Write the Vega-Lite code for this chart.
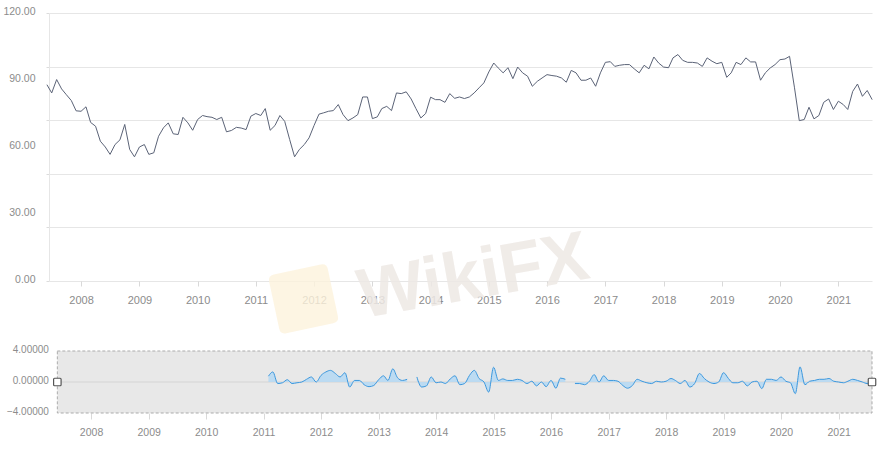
{
  "$schema": "https://vega.github.io/schema/vega-lite/v6.json",
  "description": "Monthly index with data-zoom overview panel",
  "padding": {"left": 2, "top": 6, "right": 0, "bottom": 0},
  "datasets": {
    "index": [
      {"date": "2007-06-01", "value": 87.9}, {"date": "2007-07-01", "value": 84.2}, {"date": "2007-08-01", "value": 90.2},
      {"date": "2007-09-01", "value": 86.0}, {"date": "2007-10-01", "value": 83.4}, {"date": "2007-11-01", "value": 80.8},
      {"date": "2007-12-01", "value": 76.2}, {"date": "2008-01-01", "value": 76.0}, {"date": "2008-02-01", "value": 78.0},
      {"date": "2008-03-01", "value": 71.0}, {"date": "2008-04-01", "value": 69.3}, {"date": "2008-05-01", "value": 62.6},
      {"date": "2008-06-01", "value": 60.0}, {"date": "2008-07-01", "value": 56.7}, {"date": "2008-08-01", "value": 61.1},
      {"date": "2008-09-01", "value": 63.2}, {"date": "2008-10-01", "value": 70.1}, {"date": "2008-11-01", "value": 58.9},
      {"date": "2008-12-01", "value": 55.6}, {"date": "2009-01-01", "value": 60.0}, {"date": "2009-02-01", "value": 61.1},
      {"date": "2009-03-01", "value": 56.7}, {"date": "2009-04-01", "value": 57.4}, {"date": "2009-05-01", "value": 64.8},
      {"date": "2009-06-01", "value": 68.6}, {"date": "2009-07-01", "value": 70.8}, {"date": "2009-08-01", "value": 65.9},
      {"date": "2009-09-01", "value": 65.6}, {"date": "2009-10-01", "value": 73.3}, {"date": "2009-11-01", "value": 70.8},
      {"date": "2009-12-01", "value": 67.5}, {"date": "2010-01-01", "value": 72.3}, {"date": "2010-02-01", "value": 74.1},
      {"date": "2010-03-01", "value": 73.6}, {"date": "2010-04-01", "value": 73.3}, {"date": "2010-05-01", "value": 72.3},
      {"date": "2010-06-01", "value": 73.3}, {"date": "2010-07-01", "value": 66.8}, {"date": "2010-08-01", "value": 67.4},
      {"date": "2010-09-01", "value": 68.8}, {"date": "2010-10-01", "value": 68.5}, {"date": "2010-11-01", "value": 67.8},
      {"date": "2010-12-01", "value": 73.8}, {"date": "2011-01-01", "value": 75.0}, {"date": "2011-02-01", "value": 74.1},
      {"date": "2011-03-01", "value": 77.2}, {"date": "2011-04-01", "value": 67.5}, {"date": "2011-05-01", "value": 69.6},
      {"date": "2011-06-01", "value": 74.1}, {"date": "2011-07-01", "value": 71.5}, {"date": "2011-08-01", "value": 63.4},
      {"date": "2011-09-01", "value": 55.6}, {"date": "2011-10-01", "value": 58.9}, {"date": "2011-11-01", "value": 61.1},
      {"date": "2011-12-01", "value": 64.1}, {"date": "2012-01-01", "value": 69.6}, {"date": "2012-02-01", "value": 74.7},
      {"date": "2012-03-01", "value": 75.3}, {"date": "2012-04-01", "value": 76.0}, {"date": "2012-05-01", "value": 76.3},
      {"date": "2012-06-01", "value": 79.0}, {"date": "2012-07-01", "value": 74.5}, {"date": "2012-08-01", "value": 71.8},
      {"date": "2012-09-01", "value": 73.0}, {"date": "2012-10-01", "value": 74.5}, {"date": "2012-11-01", "value": 82.4},
      {"date": "2012-12-01", "value": 82.4}, {"date": "2013-01-01", "value": 72.7}, {"date": "2013-02-01", "value": 73.5},
      {"date": "2013-03-01", "value": 77.2}, {"date": "2013-04-01", "value": 78.2}, {"date": "2013-05-01", "value": 76.3},
      {"date": "2013-06-01", "value": 84.2}, {"date": "2013-07-01", "value": 83.9}, {"date": "2013-08-01", "value": 84.7},
      {"date": "2013-09-01", "value": 81.5}, {"date": "2013-10-01", "value": 77.2}, {"date": "2013-11-01", "value": 73.0},
      {"date": "2013-12-01", "value": 75.0}, {"date": "2014-01-01", "value": 82.3}, {"date": "2014-02-01", "value": 81.2},
      {"date": "2014-03-01", "value": 81.2}, {"date": "2014-04-01", "value": 80.0}, {"date": "2014-05-01", "value": 83.9},
      {"date": "2014-06-01", "value": 81.8}, {"date": "2014-07-01", "value": 82.4}, {"date": "2014-08-01", "value": 81.7},
      {"date": "2014-09-01", "value": 82.4}, {"date": "2014-10-01", "value": 84.2}, {"date": "2014-11-01", "value": 86.5},
      {"date": "2014-12-01", "value": 88.7}, {"date": "2015-01-01", "value": 93.6}, {"date": "2015-02-01", "value": 97.6},
      {"date": "2015-03-01", "value": 95.4}, {"date": "2015-04-01", "value": 93.2}, {"date": "2015-05-01", "value": 95.5},
      {"date": "2015-06-01", "value": 90.6}, {"date": "2015-07-01", "value": 95.8}, {"date": "2015-08-01", "value": 93.2},
      {"date": "2015-09-01", "value": 91.7}, {"date": "2015-10-01", "value": 87.2}, {"date": "2015-11-01", "value": 89.4},
      {"date": "2015-12-01", "value": 90.9}, {"date": "2016-01-01", "value": 92.4}, {"date": "2016-02-01", "value": 92.0},
      {"date": "2016-03-01", "value": 91.7}, {"date": "2016-04-01", "value": 90.9}, {"date": "2016-05-01", "value": 89.0},
      {"date": "2016-06-01", "value": 94.3}, {"date": "2016-07-01", "value": 93.2}, {"date": "2016-08-01", "value": 89.9},
      {"date": "2016-09-01", "value": 89.9}, {"date": "2016-10-01", "value": 90.9}, {"date": "2016-11-01", "value": 87.2},
      {"date": "2016-12-01", "value": 93.2}, {"date": "2017-01-01", "value": 97.9}, {"date": "2017-02-01", "value": 98.2},
      {"date": "2017-03-01", "value": 96.1}, {"date": "2017-04-01", "value": 96.6}, {"date": "2017-05-01", "value": 96.9},
      {"date": "2017-06-01", "value": 96.9}, {"date": "2017-07-01", "value": 95.0}, {"date": "2017-08-01", "value": 93.2},
      {"date": "2017-09-01", "value": 96.6}, {"date": "2017-10-01", "value": 95.0}, {"date": "2017-11-01", "value": 100.3},
      {"date": "2017-12-01", "value": 97.6}, {"date": "2018-01-01", "value": 95.8}, {"date": "2018-02-01", "value": 95.5},
      {"date": "2018-03-01", "value": 99.9}, {"date": "2018-04-01", "value": 101.4}, {"date": "2018-05-01", "value": 98.8},
      {"date": "2018-06-01", "value": 97.9}, {"date": "2018-07-01", "value": 97.9}, {"date": "2018-08-01", "value": 97.6},
      {"date": "2018-09-01", "value": 96.1}, {"date": "2018-10-01", "value": 99.9}, {"date": "2018-11-01", "value": 98.4},
      {"date": "2018-12-01", "value": 97.3}, {"date": "2019-01-01", "value": 97.9}, {"date": "2019-02-01", "value": 91.2},
      {"date": "2019-03-01", "value": 93.2}, {"date": "2019-04-01", "value": 97.9}, {"date": "2019-05-01", "value": 96.9},
      {"date": "2019-06-01", "value": 99.9}, {"date": "2019-07-01", "value": 98.1}, {"date": "2019-08-01", "value": 98.1},
      {"date": "2019-09-01", "value": 89.9}, {"date": "2019-10-01", "value": 93.2}, {"date": "2019-11-01", "value": 95.4},
      {"date": "2019-12-01", "value": 96.9}, {"date": "2020-01-01", "value": 99.1}, {"date": "2020-02-01", "value": 99.4},
      {"date": "2020-03-01", "value": 100.6}, {"date": "2020-04-01", "value": 86.5}, {"date": "2020-05-01", "value": 71.8},
      {"date": "2020-06-01", "value": 72.3}, {"date": "2020-07-01", "value": 77.8}, {"date": "2020-08-01", "value": 72.6},
      {"date": "2020-09-01", "value": 74.1}, {"date": "2020-10-01", "value": 80.0}, {"date": "2020-11-01", "value": 81.5},
      {"date": "2020-12-01", "value": 76.8}, {"date": "2021-01-01", "value": 80.5}, {"date": "2021-02-01", "value": 79.0},
      {"date": "2021-03-01", "value": 76.8}, {"date": "2021-04-01", "value": 84.9}, {"date": "2021-05-01", "value": 88.2},
      {"date": "2021-06-01", "value": 82.7}, {"date": "2021-07-01", "value": 85.3}, {"date": "2021-08-01", "value": 81.2}
    ],
    "change": [
      {"date": "2011-02-01", "value": 0.75}, {"date": "2011-03-01", "value": 1.3}, {"date": "2011-04-01", "value": -0.2},
      {"date": "2011-05-01", "value": -0.1}, {"date": "2011-06-01", "value": 0.3}, {"date": "2011-07-01", "value": -0.2},
      {"date": "2011-08-01", "value": -0.1}, {"date": "2011-09-01", "value": 0.0}, {"date": "2011-10-01", "value": 0.35},
      {"date": "2011-11-01", "value": 0.65}, {"date": "2011-12-01", "value": 0.0}, {"date": "2012-01-01", "value": 0.85},
      {"date": "2012-02-01", "value": 1.3}, {"date": "2012-03-01", "value": 1.5}, {"date": "2012-04-01", "value": 1.1},
      {"date": "2012-05-01", "value": 0.65}, {"date": "2012-06-01", "value": 1.2}, {"date": "2012-07-01", "value": -0.65},
      {"date": "2012-08-01", "value": 0.2}, {"date": "2012-09-01", "value": 0.2}, {"date": "2012-10-01", "value": -0.35},
      {"date": "2012-11-01", "value": -0.6}, {"date": "2012-12-01", "value": -0.45}, {"date": "2013-01-01", "value": 0.3},
      {"date": "2013-02-01", "value": 0.8}, {"date": "2013-03-01", "value": 0.2}, {"date": "2013-04-01", "value": 1.7},
      {"date": "2013-05-01", "value": 0.55}, {"date": "2013-06-01", "value": 0.2}, {"date": "2013-07-01", "value": 0.35},
      {"date": "2013-08-01", "value": null}, {"date": "2013-09-01", "value": 0.65}, {"date": "2013-10-01", "value": -0.65},
      {"date": "2013-11-01", "value": -0.5}, {"date": "2013-12-01", "value": 0.65}, {"date": "2014-01-01", "value": -0.1},
      {"date": "2014-02-01", "value": 0.0}, {"date": "2014-03-01", "value": -0.2}, {"date": "2014-04-01", "value": 0.4},
      {"date": "2014-05-01", "value": 0.8}, {"date": "2014-06-01", "value": -0.35}, {"date": "2014-07-01", "value": -0.2},
      {"date": "2014-08-01", "value": 0.85}, {"date": "2014-09-01", "value": 1.5}, {"date": "2014-10-01", "value": 0.45},
      {"date": "2014-11-01", "value": 0.0}, {"date": "2014-12-01", "value": -1.3}, {"date": "2015-01-01", "value": 1.9},
      {"date": "2015-02-01", "value": 0.2}, {"date": "2015-03-01", "value": 0.4}, {"date": "2015-04-01", "value": 0.2},
      {"date": "2015-05-01", "value": 0.2}, {"date": "2015-06-01", "value": 0.35}, {"date": "2015-07-01", "value": 0.2},
      {"date": "2015-08-01", "value": -0.2}, {"date": "2015-09-01", "value": 0.1}, {"date": "2015-10-01", "value": -0.5},
      {"date": "2015-11-01", "value": 0.0}, {"date": "2015-12-01", "value": -0.6}, {"date": "2016-01-01", "value": 0.2},
      {"date": "2016-02-01", "value": -0.8}, {"date": "2016-03-01", "value": 0.5}, {"date": "2016-04-01", "value": 0.35},
      {"date": "2016-05-01", "value": null}, {"date": "2016-06-01", "value": -0.2}, {"date": "2016-07-01", "value": -0.2},
      {"date": "2016-08-01", "value": -0.35}, {"date": "2016-09-01", "value": 0.1}, {"date": "2016-10-01", "value": 0.95},
      {"date": "2016-11-01", "value": 0.0}, {"date": "2016-12-01", "value": 0.8}, {"date": "2017-01-01", "value": 0.2},
      {"date": "2017-02-01", "value": 0.2}, {"date": "2017-03-01", "value": 0.1}, {"date": "2017-04-01", "value": -0.45},
      {"date": "2017-05-01", "value": -0.8}, {"date": "2017-06-01", "value": -0.45}, {"date": "2017-07-01", "value": 0.35},
      {"date": "2017-08-01", "value": 0.1}, {"date": "2017-09-01", "value": -0.1}, {"date": "2017-10-01", "value": -0.2},
      {"date": "2017-11-01", "value": 0.1}, {"date": "2017-12-01", "value": 0.0}, {"date": "2018-01-01", "value": 0.1},
      {"date": "2018-02-01", "value": 0.45}, {"date": "2018-03-01", "value": 0.2}, {"date": "2018-04-01", "value": -0.2},
      {"date": "2018-05-01", "value": 0.2}, {"date": "2018-06-01", "value": -0.65}, {"date": "2018-07-01", "value": -0.2},
      {"date": "2018-08-01", "value": 1.1}, {"date": "2018-09-01", "value": 0.45}, {"date": "2018-10-01", "value": 0.0},
      {"date": "2018-11-01", "value": -0.2}, {"date": "2018-12-01", "value": 0.0}, {"date": "2019-01-01", "value": 1.2},
      {"date": "2019-02-01", "value": 0.45}, {"date": "2019-03-01", "value": -0.1}, {"date": "2019-04-01", "value": -0.1},
      {"date": "2019-05-01", "value": 0.1}, {"date": "2019-06-01", "value": -0.5}, {"date": "2019-07-01", "value": 0.0},
      {"date": "2019-08-01", "value": 0.1}, {"date": "2019-09-01", "value": -0.85}, {"date": "2019-10-01", "value": 0.35},
      {"date": "2019-11-01", "value": 0.35}, {"date": "2019-12-01", "value": 0.2}, {"date": "2020-01-01", "value": 0.65},
      {"date": "2020-02-01", "value": 0.1}, {"date": "2020-03-01", "value": -0.1}, {"date": "2020-04-01", "value": -1.5},
      {"date": "2020-05-01", "value": 1.95}, {"date": "2020-06-01", "value": -0.35}, {"date": "2020-07-01", "value": 0.1},
      {"date": "2020-08-01", "value": 0.2}, {"date": "2020-09-01", "value": 0.35}, {"date": "2020-10-01", "value": 0.35},
      {"date": "2020-11-01", "value": 0.45}, {"date": "2020-12-01", "value": 0.1}, {"date": "2021-01-01", "value": 0.0},
      {"date": "2021-02-01", "value": -0.1}, {"date": "2021-03-01", "value": 0.1}, {"date": "2021-04-01", "value": 0.35},
      {"date": "2021-05-01", "value": 0.2}, {"date": "2021-06-01", "value": 0.0}, {"date": "2021-07-01", "value": -0.2},
      {"date": "2021-08-01", "value": -0.1}
    ]
  },
  "vconcat": [
    {
      "width": 823,
      "height": 268,
      "resolve": {"axis": {"y": "independent"}},
      "layer": [
        {
          "data": {"values": [{}]},
          "mark": {"type": "point", "shape": "M-0.8,-1H0.8Q1,-1 1,-0.8V0.8Q1,1 0.8,1H-0.8Q-1,1 -1,0.8V-0.8Q-1,-1 -0.8,-1Z", "size": 3600, "filled": true, "color": "#fcf2dc", "opacity": 0.8, "angle": 348},
          "encoding": {
            "x": {"datum": {"year": 2011, "month": 10, "date": 27, "utc": true}, "type": "temporal"},
            "y": {
              "datum": -8,
              "type": "quantitative",
              "scale": {"domain": [0, 120], "nice": false, "zero": true},
              "axis": {
                "title": null,
                "values": [0, 24, 48, 72, 96, 120],
                "labels": false,
                "grid": true,
                "gridColor": "#e6e6e6",
                "ticks": true,
                "tickColor": "#dcdcdc",
                "tickSize": 3,
                "domain": true,
                "domainColor": "#e6e6e6",
                "orient": "left"
              }
            }
          }
        },
        {
          "data": {"values": [{}]},
          "mark": {"type": "text", "text": "WikiFX", "font": "Liberation Sans", "fontWeight": "bold", "fontSize": 70, "color": "#eee9e5", "opacity": 0.85, "angle": 350},
          "encoding": {
            "x": {"datum": {"year": 2014, "month": 9, "date": 27, "utc": true}, "type": "temporal"},
            "y": {"datum": 1.6, "type": "quantitative", "axis": null}
          }
        },
        {
          "data": {"name": "index"},
          "mark": {"type": "line", "color": "#5b6377", "strokeWidth": 1},
          "encoding": {
            "x": {
              "field": "date",
              "type": "temporal",
              "scale": {"type": "utc", "domain": [{"year": 2007, "month": 6, "date": 14, "utc": true}, {"year": 2021, "month": 7, "date": 31, "utc": true}]},
              "axis": {
                "title": null,
                "format": "%Y",
                "tickCount": {"interval": "year", "step": 1},
                "grid": false,
                "domain": false,
                "tickColor": "#d9d9d9",
                "tickSize": 5,
                "labelColor": "#8c8c8c",
                "labelFontSize": 11,
                "labelPadding": 8,
                "labelFlush": false,
                "labelOverlap": false
              }
            },
            "y": {
              "field": "value",
              "type": "quantitative",
              "axis": {
                "title": null,
                "orient": "left",
                "values": [0, 30, 60, 90, 120],
                "format": ".2f",
                "grid": false,
                "ticks": false,
                "domain": false,
                "labelColor": "#8c8c8c",
                "labelFontSize": 10.5,
                "labelPadding": 14,
                "labelOffset": -2,
                "labelOverlap": false
              }
            }
          }
        }
      ]
    },
    {
      "width": 823,
      "height": 62,
      "resolve": {"axis": {"x": "independent", "y": "independent"}},
      "layer": [
        {
          "data": {"values": [{}]},
          "mark": {"type": "rect", "fill": "#e8e8e8", "stroke": "#ababab", "strokeWidth": 1, "strokeDash": [3, 2]},
          "encoding": {
            "x": {
              "datum": {"year": 2007, "month": 6, "date": 1, "utc": true},
              "type": "temporal",
              "scale": {"type": "utc", "domain": [{"year": 2007, "month": 4, "date": 9, "utc": true}, {"year": 2021, "month": 8, "date": 1, "utc": true}]},
              "axis": {
                "title": null,
                "format": "%Y",
                "tickCount": {"interval": "year", "step": 1},
                "grid": false,
                "domain": false,
                "tickColor": "#d9d9d9",
                "tickSize": 6,
                "labelColor": "#8c8c8c",
                "labelFontSize": 10.5,
                "labelPadding": 8,
                "labelFlush": false,
                "labelOverlap": false,
                "orient": "bottom"
              }
            },
            "x2": {"datum": {"year": 2021, "month": 8, "date": 1, "utc": true}},
            "y": {
              "datum": 4,
              "type": "quantitative",
              "scale": {"domain": [-4, 4], "nice": false},
              "axis": {
                "title": null,
                "orient": "left",
                "values": [-4, 0, 4],
                "labelExpr": "format(datum.value, '.5f')",
                "grid": false,
                "ticks": false,
                "domain": false,
                "offset": -8.4,
                "labelColor": "#8c8c8c",
                "labelFontSize": 10,
                "labelPadding": 9,
                "labelOffset": -2,
                "labelOverlap": false,
                "labelFlush": false
              }
            },
            "y2": {"datum": -4}
          }
        },
        {
          "data": {"values": [{}]},
          "mark": {"type": "rule", "color": "#d4d4d4", "strokeWidth": 1},
          "encoding": {
            "x": {"datum": {"year": 2007, "month": 6, "date": 1, "utc": true}, "type": "temporal", "axis": null},
            "x2": {"datum": {"year": 2021, "month": 8, "date": 1, "utc": true}},
            "y": {"datum": 0, "type": "quantitative", "axis": null}
          }
        },
        {
          "data": {"name": "change"},
          "mark": {
            "type": "area",
            "interpolate": "monotone",
            "color": "#b7d9f3",
            "opacity": 0.9,
            "invalid": "break-paths-show-domains",
            "line": {"color": "#3c98de", "strokeWidth": 1}
          },
          "encoding": {
            "x": {"field": "date", "type": "temporal", "axis": null},
            "y": {"field": "value", "type": "quantitative", "axis": null}
          }
        },
        {
          "data": {"values": [{}]},
          "mark": {"type": "point", "shape": "M-0.75,-1H0.75Q1,-1 1,-0.75V0.75Q1,1 0.75,1H-0.75Q-1,1 -1,0.75V-0.75Q-1,-1 -0.75,-1Z", "size": 56, "filled": true, "fill": "#ffffff", "stroke": "#555555", "strokeWidth": 1.2, "opacity": 1},
          "encoding": {
            "x": {"datum": {"year": 2007, "month": 6, "date": 1, "utc": true}, "type": "temporal", "axis": null},
            "y": {"datum": 0, "type": "quantitative", "axis": null}
          }
        },
        {
          "data": {"values": [{}]},
          "mark": {"type": "point", "shape": "M-0.75,-1H0.75Q1,-1 1,-0.75V0.75Q1,1 0.75,1H-0.75Q-1,1 -1,0.75V-0.75Q-1,-1 -0.75,-1Z", "size": 56, "filled": true, "fill": "#ffffff", "stroke": "#555555", "strokeWidth": 1.2, "opacity": 1},
          "encoding": {
            "x": {"datum": {"year": 2021, "month": 8, "date": 1, "utc": true}, "type": "temporal", "axis": null},
            "y": {"datum": 0, "type": "quantitative", "axis": null}
          }
        }
      ]
    }
  ],
  "spacing": 10,
  "config": {
    "font": "Liberation Sans",
    "view": {"stroke": null},
    "axis": {"labelFont": "Liberation Sans"}
  }
}
